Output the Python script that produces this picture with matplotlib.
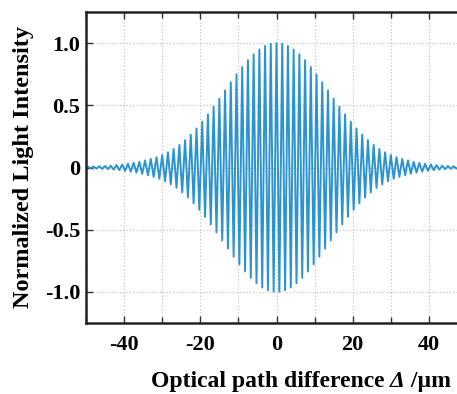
import numpy as np
import matplotlib
matplotlib.use("Agg")
import matplotlib.pyplot as plt
from matplotlib.ticker import MultipleLocator

# ---- data: interferogram extrema (x >= 0 side, symmetric) ----
opd_step = 0.75  # µm between successive fringe extrema
intensity_right = [
    1.000, -0.999, 0.994, -0.987, 0.977, -0.964, 0.948, -0.930, 0.910, -0.887,
    0.863, -0.836, 0.808, -0.779, 0.748, -0.717, 0.685, -0.652, 0.619, -0.586,
    0.553, -0.521, 0.489, -0.457, 0.427, -0.397, 0.368, -0.340, 0.314, -0.288,
    0.264, -0.241, 0.220, -0.200, 0.181, -0.164, 0.149, -0.135, 0.122, -0.111,
    0.100, -0.091, 0.083, -0.076, 0.069, -0.063, 0.057, -0.051, 0.046, -0.041,
    0.037, -0.033, 0.030, -0.027, 0.024, -0.021, 0.019, -0.017, 0.015, -0.013,
    0.012, -0.011, 0.010, -0.009, 0.008, -0.007, 0.006,
]
x_ticks = [-40, -20, 0, 20, 40]
y_ticks = [-1.0, -0.5, 0.0, 0.5, 1.0]
y_tick_labels = ["-1.0", "-0.5", "0", "0.5", "1.0"]
x_label_parts = ["Optical path difference ", "Δ", " /µm"]
y_label_text = "Normalized Light Intensity"

opd_right = np.arange(len(intensity_right)) * opd_step
opd = np.concatenate([[-50.0], -opd_right[::-1], opd_right[1:], [50.0]])
intensity = np.concatenate([[0.0], intensity_right[::-1], intensity_right[1:], [0.0]])

plt.rcParams["font.family"] = ["Liberation Serif", "DejaVu Serif"]
plt.rcParams["font.weight"] = "bold"
plt.rcParams["axes.unicode_minus"] = False

W, H = 457, 394
fig = plt.figure(figsize=(W / 100, H / 100), dpi=100)
left, right, top, bottom = 86, 467, 12, 323
ax = fig.add_axes([left / W, 1 - bottom / H, (right - left) / W, (bottom - top) / H])

ax.plot(opd, intensity, color="#2b93cf", lw=1.4)

ax.set_xlim(-50, 50)
ax.set_ylim(-1.25, 1.25)
ax.set_xticks(x_ticks)
ax.xaxis.set_minor_locator(MultipleLocator(10))
ax.set_yticks(y_ticks)
ax.set_yticklabels(y_tick_labels)

ax.grid(True, which="both", axis="x", linestyle=(0, (1, 2)), color="#bdbdbd", lw=0.8)
ax.grid(True, which="major", axis="y", linestyle=(0, (1, 2)), color="#bdbdbd", lw=0.8)

ax.tick_params(axis="both", which="both", direction="in", top=True, right=True,
               labelsize=16, width=1.0, color="#333333")
ax.tick_params(axis="x", which="major", length=5, pad=9)
ax.tick_params(axis="y", which="major", length=5, pad=4)
ax.tick_params(axis="x", which="minor", length=4)
for lab in ax.get_xticklabels() + ax.get_yticklabels():
    lab.set_fontweight("bold")

for s in ax.spines.values():
    s.set_linewidth(1.8)
    s.set_color("#222222")

ax.set_ylabel(y_label_text, fontsize=17.5, fontweight="bold")
ax.yaxis.set_label_coords((23 - left) / (right - left), 0.5)
ax.yaxis.label.set_va("center")

# x label built from pieces so that Δ can be italic
fig.canvas.draw()
renderer = fig.canvas.get_renderer()
styles = ["normal", "italic", "normal"]
texts = []
for part, st in zip(x_label_parts, styles):
    t = fig.text(0, 0, part, fontsize=17, fontweight="bold", fontstyle=st,
                 ha="left", va="baseline")
    texts.append(t)
widths = [t.get_window_extent(renderer).width for t in texts]
total = sum(widths)
x0 = 301 - total / 2
baseline = H - 387
for t, w in zip(texts, widths):
    t.set_position((x0 / W, baseline / H))
    x0 += w

fig.savefig("out.png", dpi=100)
